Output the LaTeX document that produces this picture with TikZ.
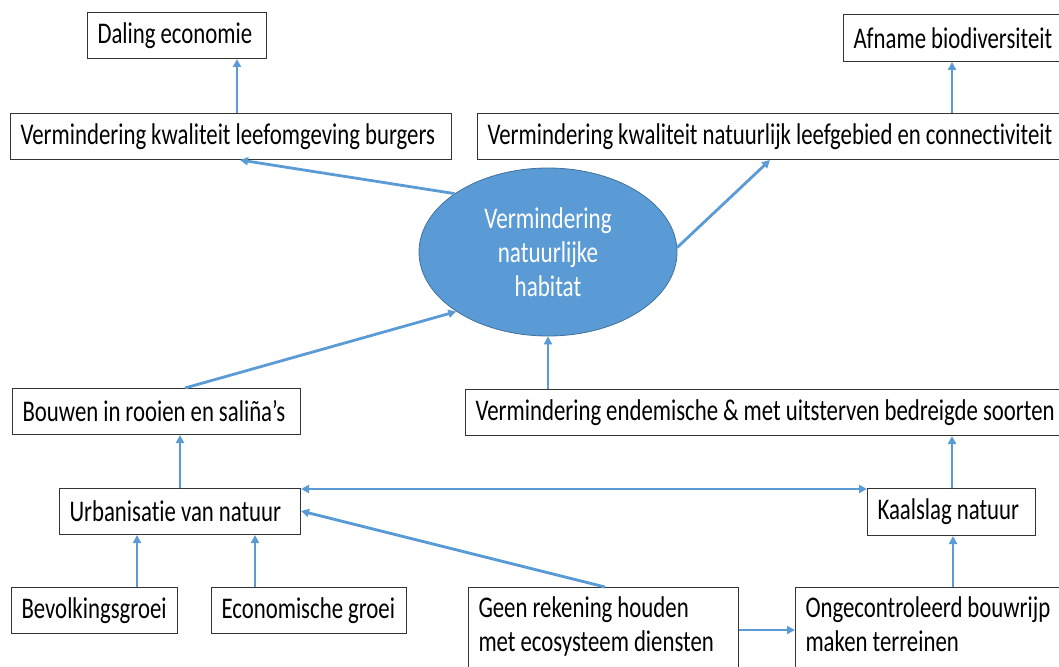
\documentclass[tikz,border=0pt]{standalone}
\usepackage{fontspec}
\setmainfont{Carlito}
\newfontfamily\boxfont{Carlito}[FakeStretch=0.76, Ligatures=NoCommon]
\newfontfamily\ellfont{Carlito}[FakeStretch=0.77, Ligatures=NoCommon]
\usetikzlibrary{arrows.meta,shapes.geometric,calc}
\definecolor{arr}{HTML}{5B9BD5}
\definecolor{ellfill}{HTML}{5B9BD5}
\definecolor{ellline}{HTML}{41719C}
\begin{document}
\begin{tikzpicture}[x=1pt,y=-1pt,
  box/.style={draw=black!80, line width=1pt, fill=white, anchor=north west,
    inner xsep=10pt, inner ysep=0pt, align=left,
    font=\boxfont\fontsize{30}{34}\selectfont,
    execute at begin node={\spaceskip=5pt\relax}},
  tallbox/.style={box, inner ysep=8pt, text height=22pt, text depth=80pt},
  arrow/.style={draw=arr, line width=2.8pt, -{Triangle[length=8pt,width=8pt]}},
  arrowboth/.style={draw=arr, line width=2.8pt, {Triangle[length=8pt,width=8pt]}-{Triangle[length=8pt,width=8pt]}},
]
\useasboundingbox (0,0) rectangle (1059,666);
\clip (0,0) rectangle (1059,666);

% boxes
\node[box, text width=159, minimum height=46] (dal) at (87,12) {\mbox{Daling economie}};
\node[box, text width=421, minimum height=46] (lkw) at (10,113) {\mbox{Vermindering kwaliteit leefomgeving burgers}};
\node[box, text width=570, minimum height=46] (nkw) at (477,113) {\mbox{Vermindering kwaliteit natuurlijk leefgebied en connectiviteit}};
\node[box, text width=210, minimum height=47] (afn) at (843,14) {\mbox{Afname biodiversiteit}};
\node[ellipse, fill=ellfill, draw=ellline, line width=0.8pt, minimum width=258, minimum height=168,
      inner sep=0pt, text=white, align=center, font=\ellfont\fontsize{30}{34}\selectfont] (ell) at (548,252)
      {Vermindering\\natuurlijke\\habitat};
\node[box, text width=268, minimum height=46] (bouw) at (12,388) {\mbox{Bouwen in rooien en saliña’s}};
\node[box, text width=580, minimum height=46] (end) at (465,389) {\mbox{Vermindering endemische \& met uitsterven bedreigde soorten}};
\node[box, text width=221, minimum height=46] (urb) at (59,488) {\mbox{Urbanisatie van natuur}};
\node[box, text width=148, minimum height=47] (kaal) at (867,488) {\mbox{Kaalslag natuur}};
\node[box, text width=146, minimum height=46] (bev) at (11,587) {\mbox{Bevolkingsgroei}};
\node[box, text width=175, minimum height=46] (eco) at (211,587) {\mbox{Economische groei}};
\node[tallbox, text width=250] (geen) at (468,587) {Geen rekening houden\\met ecosysteem diensten};
\node[tallbox, text width=260] (ong) at (795,587) {Ongecontroleerd bouwrijp\\maken terreinen};

% x / y guides for connectors
\coordinate (xa) at (237,0);
\coordinate (xb) at (240,0);
\coordinate (xc) at (952,0);
\coordinate (xd) at (770,0);
\coordinate (xe) at (185,0);
\coordinate (xf) at (548,0);
\coordinate (xg) at (180,0);
\coordinate (xh) at (605,0);
\coordinate (xi) at (137,0);
\coordinate (xj) at (255,0);
\coordinate (xk) at (953,0);
\coordinate (ya) at (0,489);
\coordinate (yb) at (0,630);
\coordinate (yc) at (0,511);

% connectors
\draw[arrow] (xa |- lkw.north) -- (xa |- dal.south);
\draw[arrow] (xc |- nkw.north) -- (xc |- afn.south);
\draw[arrow] (ell.148) -- (xb |- lkw.south);
\draw[arrow] (ell.2) -- (xd |- nkw.south);
\draw[arrow] (xe |- bouw.north) -- (ell.213);
\draw[arrow] (xf |- end.north) -- (ell.south);
\draw[arrow] (xg |- urb.north) -- (xg |- bouw.south);
\draw[arrowboth] (urb.east |- ya) -- (kaal.west |- ya);
\draw[arrow] (xh |- geen.north) -- (urb.east |- yc);
\draw[arrow] (xi |- bev.north) -- (xi |- urb.south);
\draw[arrow] (xj |- eco.north) -- (xj |- urb.south);
\draw[arrow] (geen.east |- yb) -- (ong.west |- yb);
\draw[arrow] (xk |- ong.north) -- (xk |- kaal.south);
\draw[arrow] (xc |- kaal.north) -- (xc |- end.south);
\end{tikzpicture}
\end{document}
